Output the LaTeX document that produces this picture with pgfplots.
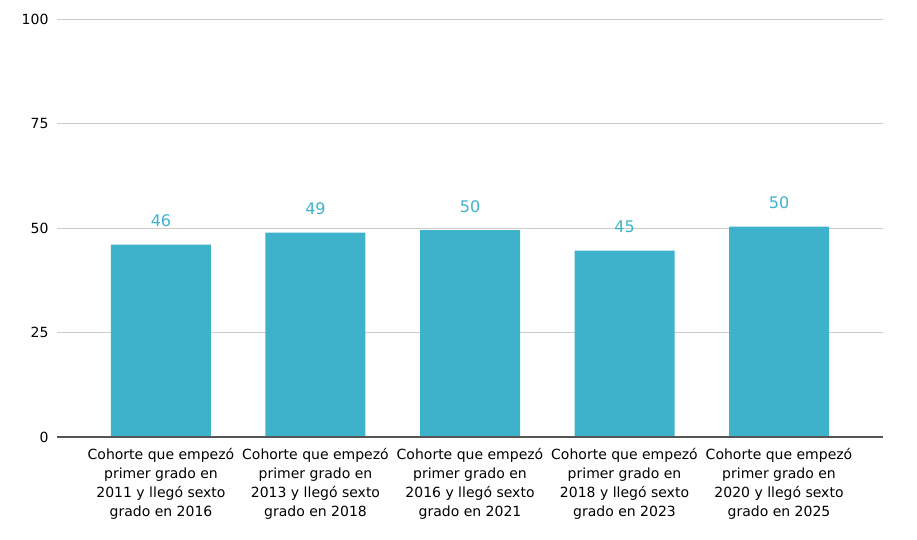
\documentclass[border=0pt]{standalone}
\usepackage{pgfplots}
\pgfplotsset{compat=1.18}
\usepackage{fontspec}
\setmainfont{DejaVu Sans}
\definecolor{barc}{HTML}{3EB2CB}
\definecolor{gridc}{HTML}{CCCCCC}
\definecolor{axc}{HTML}{555555}
\begin{document}
\begin{tikzpicture}
\begin{axis}[
  scale only axis,
  width=826pt, height=418pt,
  xmin=-0.673, xmax=4.673,
  ymin=0, ymax=100,
  ytick={0,25,50,75,100},
  ymajorgrids,
  grid style={gridc, line width=0.8pt},
  axis line style={draw=none},
  xtick={0,1,2,3,4},
  major tick length=0pt,
  xticklabels={
    {Cohorte que empezó\\primer grado en\\2011 y llegó sexto\\grado en 2016},
    {Cohorte que empezó\\primer grado en\\2013 y llegó sexto\\grado en 2018},
    {Cohorte que empezó\\primer grado en\\2016 y llegó sexto\\grado en 2021},
    {Cohorte que empezó\\primer grado en\\2018 y llegó sexto\\grado en 2023},
    {Cohorte que empezó\\primer grado en\\2020 y llegó sexto\\grado en 2025}},
  xticklabel style={align=center, font=\fontsize{14}{19}\selectfont, text=black, yshift=-8pt},
  yticklabel style={font=\fontsize{14}{16}\selectfont, text=black, xshift=-5pt},
  /pgf/number format/assume math mode=true,
  ytick pos=left,
  xtick pos=bottom,
  nodes near coords,
  nodes near coords style={font=\fontsize{16}{18}\selectfont, text=barc, yshift=14pt},
  point meta=explicit symbolic,
]
\addplot[ybar, bar width=100pt, fill=barc, draw=none] coordinates {
  (0,46.0) [46]
  (1,48.9) [49]
  (2,49.5) [50]
  (3,44.6) [45]
  (4,50.3) [50]
};
\draw[axc, line width=1.2pt] (axis cs:-0.673,0) -- (axis cs:4.673,0);
\end{axis}
\path (current axis.south west) ++(-57pt,-103pt) (current axis.north east) ++(34pt,19pt);
\end{tikzpicture}
\end{document}
